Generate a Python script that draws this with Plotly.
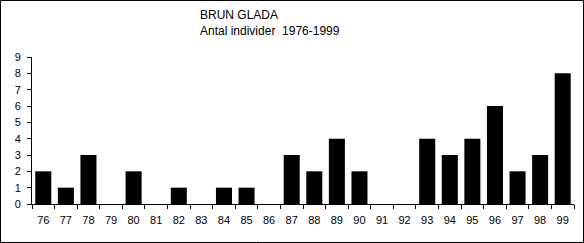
import plotly.graph_objects as go

years = ["76","77","78","79","80","81","82","83","84","85","86","87",
         "88","89","90","91","92","93","94","95","96","97","98","99"]
counts = [2,1,3,0,2,0,1,0,1,1,0,3,2,4,2,0,0,4,3,4,6,2,3,8]
title_lines = ["BRUN GLADA", "Antal individer  1976-1999"]

W, H = 584, 243
ml, mr, mt, mb = 32, 10, 57, 39
pw = W - ml - mr
ph = H - mt - mb

fig = go.Figure(go.Bar(x=years, y=counts, marker=dict(color="black", line=dict(width=0))))

font = "Liberation Sans, Arial, sans-serif"
fig.update_layout(
    width=W, height=H,
    margin=dict(l=ml, r=mr, t=mt, b=mb),
    paper_bgcolor="white", plot_bgcolor="white",
    bargap=0.29, showlegend=False,
    font=dict(family=font, size=11, color="black"),
    xaxis=dict(type="category", showline=True, linecolor="black", linewidth=1,
               ticks="outside", tickson="boundaries", ticklen=4, tickcolor="black",
               showgrid=False, tickfont=dict(size=11), ticklabelstandoff=6),
    yaxis=dict(range=[0, 9], dtick=1, showline=True, linecolor="black", linewidth=1,
               ticks="outside", ticklen=4, tickcolor="black", showgrid=False,
               zeroline=False, tickfont=dict(size=11), ticklabelstandoff=4),
)

fig.add_annotation(text="<br>".join(title_lines), xref="paper", yref="paper",
                   x=(198 - ml) / pw, y=(H - mb - 6) / ph, xanchor="left", yanchor="top",
                   align="left", showarrow=False, font=dict(family=font, size=12, color="black"))

fig.add_shape(type="rect", xref="paper", yref="paper",
              x0=(0.5 - ml) / pw, x1=(W - 0.5 - ml) / pw,
              y0=-(mb - 0.5) / ph, y1=(H - mb - 0.5) / ph,
              line=dict(color="black", width=1), layer="above")

fig.write_html("out.html")
